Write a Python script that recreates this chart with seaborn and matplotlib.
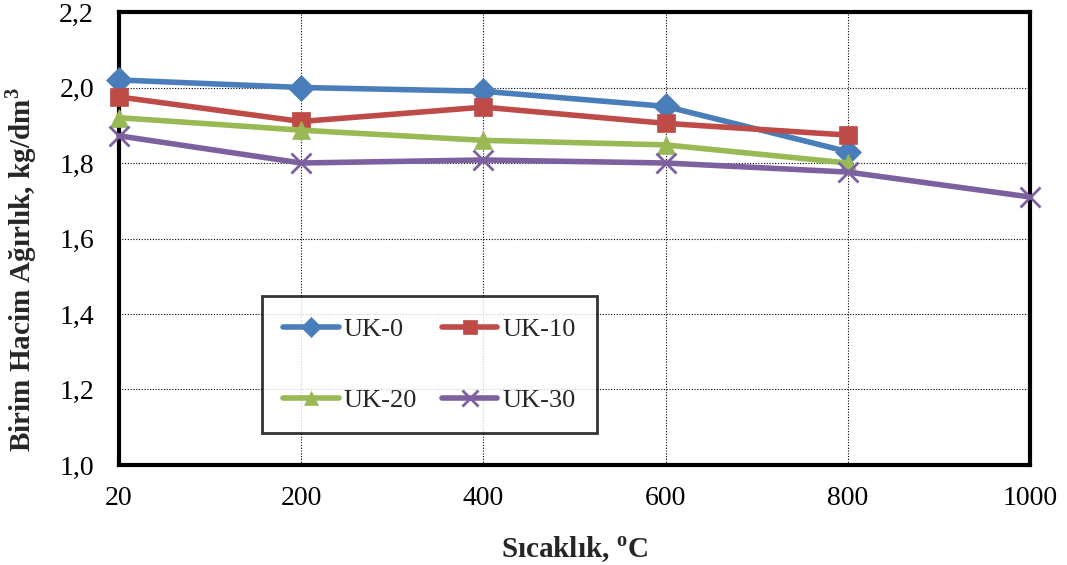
import numpy as np
import pandas as pd
import matplotlib
matplotlib.use("Agg")
import matplotlib.pyplot as plt
import seaborn as sns
from matplotlib.ticker import FuncFormatter, FixedLocator

# Temperatures (categorical, evenly spaced on the x axis)
temps = ["20", "200", "400", "600", "800", "1000"]

# Unit weight (kg/dm3) per mix
uk0 = [2.02, 2.00, 1.99, 1.95, 1.83]
uk10 = [1.975, 1.91, 1.948, 1.905, 1.874]
uk20 = [1.92, 1.887, 1.86, 1.848, 1.80]
uk30 = [1.872, 1.80, 1.808, 1.80, 1.776, 1.71]

series_names = ["UK-0", "UK-10", "UK-20", "UK-30"]
series_values = [uk0, uk10, uk20, uk30]
colors = ["#4A7EBB", "#BE4B48", "#98B954", "#7D60A0"]
markers = ["D", "s", "^", "x"]
msizes = [13, 13, 13, 15]

rows = []
for name, vals in zip(series_names, series_values):
    for i, v in enumerate(vals):
        rows.append({"pos": i, "temp": temps[i], "value": v, "series": name})
df = pd.DataFrame(rows)

sns.set_theme(style="white")
plt.rcParams["font.family"] = ["Liberation Serif", "DejaVu Serif"]
plt.rcParams["mathtext.fontset"] = "custom"
plt.rcParams["mathtext.rm"] = "Liberation Serif"
plt.rcParams["mathtext.bf"] = "Liberation Serif:bold"

fig = plt.figure(figsize=(10.67, 5.65), dpi=100)
ax = fig.add_axes([119 / 1067, 1 - 465 / 565, (1030 - 119) / 1067, (465 - 12) / 565])

for name, col, mk, ms in zip(series_names, colors, markers, msizes):
    sub = df[df["series"] == name]
    sns.lineplot(data=sub, x="pos", y="value", ax=ax, color=col, marker=mk,
                 markersize=ms, linewidth=4, markeredgecolor=col,
                 markeredgewidth=2 if mk == "x" else 0.5,
                 label=name, solid_capstyle="round", clip_on=False, zorder=3)

ax.set_xlim(0, len(temps) - 1)
ax.set_ylim(1.0, 2.2)
ax.xaxis.set_major_locator(FixedLocator(range(len(temps))))
ax.set_xticklabels(temps)
ax.set_yticks(np.arange(1.0, 2.21, 0.2))
ax.yaxis.set_major_formatter(FuncFormatter(lambda v, p: f"{v:.1f}".replace(".", ",")))

ax.grid(True, color="black", linestyle=(0, (1, 1.5)), linewidth=0.8)
for sp in ax.spines.values():
    sp.set_visible(True)
    sp.set_color("black")
    sp.set_linewidth(3)
ax.tick_params(axis="both", which="major", direction="out", length=5, width=1,
               color="#808080", labelsize=20, colors="black")
ax.tick_params(axis="y", pad=13)
ax.tick_params(axis="x", pad=10)

ax.set_xlabel(r"Sıcaklık, $^{\mathbf{o}}$C", fontsize=21, fontweight="bold", labelpad=17)
ax.set_ylabel(r"Birim Hacim Ağırlık, kg/dm$^{\mathbf{3}}$", fontsize=21,
              fontweight="bold")
ax.yaxis.set_label_coords(-0.088, 0.43)

# legend filled row by row: UK-0, UK-10 / UK-20, UK-30
handles, labels = ax.get_legend_handles_labels()
order = [0, 2, 1, 3]
leg = ax.legend([handles[i] for i in order], [labels[i] for i in order],
                loc="lower left",
                bbox_to_anchor=((262 - 119) / 911, (465 - 433) / 453,
                                (597 - 262) / 911, (433 - 298) / 453),
                mode="expand", ncol=2, fontsize=19, frameon=True, fancybox=False,
                handlelength=2.1, borderpad=0.8, labelspacing=1.8, columnspacing=1.6,
                handletextpad=0.2, borderaxespad=0, markerscale=0.75)
leg.get_frame().set_edgecolor("black")
leg.get_frame().set_linewidth(2)
leg.set_zorder(5)

fig.savefig("out.png", dpi=100)
